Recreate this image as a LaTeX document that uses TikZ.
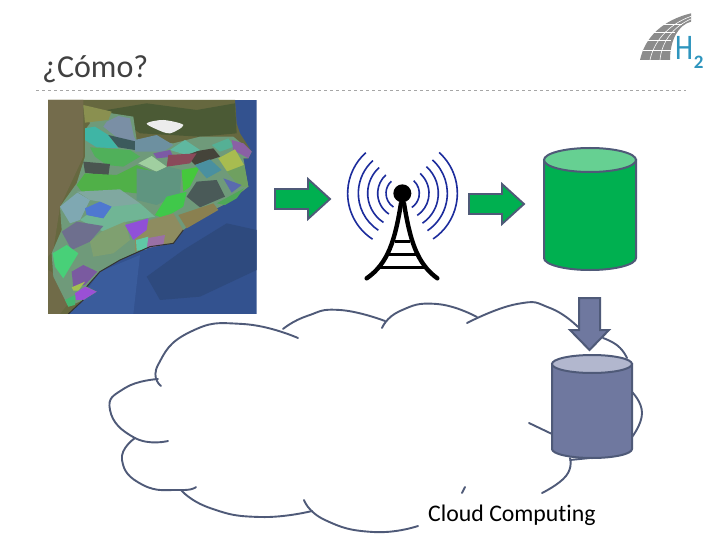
\documentclass[tikz,border=0pt]{standalone}
\usepackage{fontspec}
\setmainfont[Ligatures=NoCommon]{Carlito}
\usetikzlibrary{arrows.meta,positioning}
\definecolor{fgreen}{HTML}{00B050}
\definecolor{fgreentop}{HTML}{66D092}
\definecolor{fslate}{HTML}{4F5A78}
\definecolor{fdrum}{HTML}{6F789F}
\definecolor{fdrumtop}{HTML}{B2B7CE}
\definecolor{fwave}{HTML}{1C2C9C}
\definecolor{fsea}{HTML}{33528F}
\definecolor{fshelf}{HTML}{3A5C9C}
\definecolor{fdeep}{HTML}{2E4A7E}
\definecolor{fland}{HTML}{66683F}
\definecolor{fsoil}{HTML}{746C4C}
\definecolor{fforest}{HTML}{4B5A35}
\definecolor{flogo}{HTML}{8C8C8C}
\definecolor{fhtwo}{HTML}{2E95BE}
\newcommand{\mappatch}[2]{\definecolor{fpatch}{HTML}{#1}\fill[fill=fpatch] plot coordinates {#2} -- cycle;}
\tikzset{
  greenarrow/.style={fill=fgreen, draw=fslate, line width=1.9pt, line join=miter},
  drumline/.style={draw=fslate, line width=2pt},
  cloudline/.style={draw=fslate, line width=1.9pt, line cap=round, smooth, tension=0.9},
  waveline/.style={draw=fwave, line width=1.6pt},
  towerline/.style={draw=black, line cap=round},
}
\begin{document}
\begin{tikzpicture}[x=1pt, y=-1pt]
\useasboundingbox (0,0) rectangle (720,540);
\fill[white] (0,0) rectangle (720,540);
% ---------------- heading ----------------
\node[font=\fontsize{32}{34}\selectfont, text=black!75, anchor=base west, inner sep=0pt] (title) at (42,78) {¿Cómo?};
\draw[dashed, gray!70, thin] (36,90) -- (686,90);
% ---------------- logo ----------------
\begin{scope}[shift={(620,0)}, scale=1/3]
\fill[flogo] (60,180) .. controls (75,110) and (130,60) .. (213,40) -- (213,65)
  .. controls (175,75) and (150,120) .. (150,180) -- cycle;
\draw[white, line width=0.6pt] (90,180) .. controls (100,130) and (140,75) .. (213,49);
\draw[white, line width=0.6pt] (120,180) .. controls (125,125) and (160,80) .. (213,57);
\foreach \y/\xa/\xb in {150/68/152, 122/80/154, 96/100/165, 74/125/185}{
  \draw[white, line width=0.6pt] (\xa,\y) -- (\xb,\y);}
\node[font=\fontsize{36}{36}\selectfont, text=fhtwo, anchor=base west, inner sep=0pt] (logoh) at (165,180) {\scalebox{0.8}[1]{H}};
\node[font=\fontsize{19}{19}\selectfont\bfseries, text=fhtwo, anchor=base west, inner sep=0pt] (logotwo) at (221,205) {2};
\end{scope}
% ---------------- map ----------------
\begin{scope}[shift={(40,90)}, scale=1/3]
\begin{scope}
\clip (24,30) rectangle (650,672);
\fill[fsea] (24,30) rectangle (650,672);
\fill[fshelf] (90,672) -- (180,545) -- (300,495) -- (280,672) -- cycle;
\fill[fdeep] (320,560) -- (430,480) -- (560,400) -- (650,420) -- (650,540) -- (480,620) -- (360,630) -- cycle;
\fill[fland] (24,30) -- (585,30) -- (590,100) -- (600,130) -- (635,185) -- (625,205) -- (610,205)
  -- (625,290) -- (560,340) -- (480,380) -- (430,420) -- (400,460) -- (330,470) -- (240,510)
  -- (180,545) -- (140,590) -- (170,605) -- (130,630) -- (85,672) -- (24,672) -- cycle;
\fill[fsoil] (24,30) -- (130,30) -- (130,200) -- (60,350) -- (40,480) -- (24,500) -- cycle;
\fill[fsoil!70!fland] (24,540) -- (60,560) -- (85,640) -- (60,672) -- (24,672) -- cycle;
\fill[fforest] (200,60) -- (320,40) -- (470,60) -- (585,40) -- (590,130) -- (480,140) -- (300,130) -- cycle;
\fill[white!85!gray] plot[smooth cycle] coordinates {(320,100) (370,90) (430,105) (390,130) (350,118)};
% catchments
\mappatch{6F9A7A}{(130,50) (215,70) (280,80) (290,150) (400,160) (480,140) (580,140) (635,185) (625,205) (610,205) (625,290) (560,340) (480,380) (430,420) (400,460) (330,470) (240,510) (180,545) (140,590) (170,605) (130,630) (85,650) (75,630) (40,560) (35,490) (65,420) (60,350) (110,280) (135,200) (135,120) (150,100)}
\mappatch{8A9050}{(130,45) (215,65) (205,90) (135,98)}
\mappatch{7A8FA5}{(200,95) (235,78) (270,85) (282,140) (290,155) (240,150) (190,110)}
\mappatch{3FB5A5}{(135,115) (165,110) (205,135) (235,175) (170,172) (135,150)}
\mappatch{3C5A5C}{(205,135) (290,155) (285,180) (235,172)}
\mappatch{50B05A}{(150,172) (270,180) (300,200) (250,230) (200,225) (165,200)}
\mappatch{6D90A0}{(285,150) (350,135) (400,165) (370,185) (285,185)}
\mappatch{45443A}{(430,190) (520,175) (540,200) (465,225)}
\mappatch{5FB8A0}{(390,180) (435,150) (480,180) (440,195)}
\mappatch{7C5AA5}{(340,190) (390,180) (400,200) (350,205)}
\mappatch{8A4A5A}{(385,195) (470,190) (450,220) (380,230)}
\mappatch{A0CFA0}{(295,220) (335,198) (380,230) (350,245)}
\mappatch{4A5550}{(130,215) (210,222) (205,258) (135,248)}
\mappatch{50B048}{(110,285) (135,250) (230,255) (290,225) (340,245) (290,310) (200,300) (130,312)}
\mappatch{5F9580}{(290,235) (350,245) (385,230) (425,240) (420,310) (350,345) (290,330)}
\mappatch{40C84A}{(345,375) (380,320) (440,305) (430,350) (370,385)}
\mappatch{45C83C}{(425,240) (480,230) (450,290) (430,305)}
\mappatch{7FA8B2}{(60,350) (112,308) (150,330) (120,390) (90,400)}
\mappatch{80A8A0}{(112,305) (240,298) (300,340) (265,375) (180,335) (150,330)}
\mappatch{70B595}{(120,390) (140,375) (190,385) (215,350) (265,345) (300,340) (345,380) (260,395) (190,425)}
\mappatch{4F78D0}{(135,355) (180,335) (215,350) (190,385) (140,375)}
\mappatch{6E6F8E}{(65,425) (110,395) (190,408) (150,455) (95,480)}
\mappatch{7FA070}{(185,425) (255,395) (270,450) (220,490) (160,500) (150,455)}
\mappatch{8E8C60}{(330,390) (400,370) (430,420) (400,460) (330,470) (285,485) (285,445)}
\mappatch{9050D8}{(255,405) (325,385) (320,420) (280,450)}
\mappatch{9A70A5}{(320,445) (375,435) (370,465) (320,475)}
\mappatch{60C8A5}{(288,450) (325,440) (320,478) (290,482)}
\mappatch{48D078}{(38,490) (80,465) (115,490) (70,565) (45,530)}
\mappatch{7A5AA0}{(95,545) (130,525) (172,545) (135,585) (100,592)}
\mappatch{A5C050}{(95,592) (135,575) (115,602) (100,602)}
\mappatch{9A50D5}{(105,610) (135,590) (170,605) (130,630) (108,630)}
\mappatch{45B870}{(75,630) (105,615) (105,645) (85,650)}
\mappatch{55B095}{(515,165) (565,145) (582,170) (540,185)}
\mappatch{8A60A5}{(575,150) (610,160) (635,185) (625,205) (580,180)}
\mappatch{A8BC50}{(535,205) (585,178) (612,225) (565,250)}
\mappatch{6FA060}{(560,245) (612,225) (625,290) (600,290)}
\mappatch{4A90A0}{(465,225) (510,208) (545,240) (500,265)}
\mappatch{5A6AAE}{(550,265) (605,285) (575,308)}
\mappatch{4A5A58}{(440,320) (470,275) (530,270) (555,320) (480,352)}
\mappatch{4FA858}{(530,340) (612,295) (590,325) (555,345)}
\mappatch{8A8050}{(415,375) (520,340) (535,360) (440,415)}
\draw[black!80, line width=1pt] (430,420) -- (400,460) -- (330,470) -- (240,510) -- (180,545) -- (140,590);
\draw[black!80, line width=1pt] (130,630) -- (85,672);
\end{scope}
\end{scope}
% ---------------- block arrows ----------------
\draw[greenarrow] (275,189) -- (308,189) -- (308,179) -- (330,199) -- (308,219) -- (308,209) -- (275,209) -- cycle;
\draw[greenarrow] (469,194) -- (502,194) -- (502,184) -- (524,204) -- (502,224) -- (502,214) -- (469,214) -- cycle;
% ---------------- mast ----------------
\begin{scope}[shift={(330,140)}, scale=1/3]
\coordinate (mast) at (217,160);
\foreach \r in {49,74,104,132,164}{
  \draw[waveline] (mast) ++(123:\r) arc (123:228:\r);}
\foreach \r in {51,80,108,135,165}{
  \draw[waveline] (mast) ++(-48:\r) arc (-48:56:\r);}
\draw[towerline, line width=4.4pt] (213,190) .. controls (195,300) and (175,370) .. (110,415);
\draw[towerline, line width=4.4pt] (222,190) .. controls (240,300) and (260,370) .. (322,415);
\foreach \y/\xa/\xb in {305/195/240, 343/170/262, 382/148/288}{
  \draw[draw=black, line width=3pt] (\xa,\y) -- (\xb,\y);}
\fill[black] (mast) circle (27);
\end{scope}
% ---------------- cloud ----------------
\draw[cloudline] plot coordinates {(161,386) (158,365) (190,332) (243,324) (298,338)};
\draw[cloudline] plot coordinates {(158,379) (125,388) (110,410) (135,438) (168,441)};
\draw[cloudline] plot coordinates {(135,438) (122,460) (143,485) (180,490) (196,487)};
\draw[cloudline] plot coordinates {(181,490) (210,508) (260,517) (312,511)};
\draw[cloudline] plot coordinates {(304,500) (325,520) (373,532) (418,526)};
\draw[cloudline] plot coordinates {(283,329) (307,316) (340,310) (385,321)};
\draw[cloudline] plot coordinates {(382,328) (400,311) (437,304) (477,317)};
\draw[cloudline] plot coordinates {(467,323) (517,304) (550,308) (578,327)};
\draw[cloudline] plot coordinates {(603,338) (618,346) (627,358)};
\draw[cloudline] plot coordinates {(632,392) (642,413) (632,437)};
\draw[cloudline] (529,423) -- (552,434);
\draw[cloudline] plot coordinates {(570,458) (566,476) (542,493)};
\draw[cloudline] (570,460) -- (590,458);
\draw[cloudline] (465,487) -- (462,493);
% ---------------- green drum ----------------
\draw[drumline, fill=fgreen] (544,160) -- (544,258) arc (180:0:46 and 12) -- (636,160) -- cycle;
\draw[drumline, fill=fgreentop] (590,160) ellipse (46 and 12);
% ---------------- purple drum and arrow ----------------
\draw[drumline, fill=fdrum] (552,364) -- (552,449) arc (180:0:40 and 9) -- (632,364) -- cycle;
\draw[drumline, fill=fdrumtop] (592,364) ellipse (40 and 9);
\draw[drumline, fill=fdrum] (579,298) -- (600,298) -- (600,330) -- (609,330) -- (589.5,350) -- (570,330) -- (579,330) -- cycle;
% ---------------- label ----------------
\node[font=\fontsize{23.8}{26}\selectfont, text=black, anchor=base west, inner sep=0pt] (cloudlabel) at (428,521) {Cloud Computing};
\end{tikzpicture}
\end{document}
